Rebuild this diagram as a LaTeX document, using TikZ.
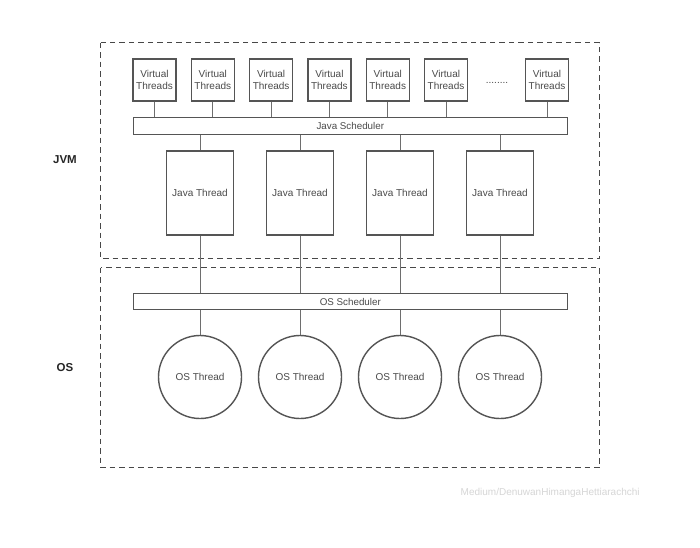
\documentclass[tikz,border=0pt]{standalone}
\usepackage{fontspec}
\setmainfont{Liberation Sans}
\definecolor{edge}{HTML}{555555}
\definecolor{txt}{HTML}{4A4A4A}
\definecolor{wm}{HTML}{D6D6D6}
\tikzset{
  vt/.style={draw=edge, line width=1.4pt, fill=white, minimum width=43pt, minimum height=42pt, inner sep=0pt, align=center, font=\fontsize{10}{12.5}\selectfont, text=txt},
  jt/.style={draw=edge, line width=1.4pt, fill=white, minimum width=67pt, minimum height=84pt, inner sep=0pt, font=\fontsize{10}{12}\selectfont, text=txt},
  sched/.style={draw=edge, line width=1.3pt, fill=white, minimum width=434pt, minimum height=16.5pt, inner sep=0pt, font=\fontsize{9.8}{11}\selectfont, text=txt},
  ost/.style={draw=edge, line width=1.4pt, circle, fill=white, minimum size=83pt, inner sep=0pt, font=\fontsize{10}{12}\selectfont, text=txt},
  conn/.style={draw=edge!85, line width=0.9pt},
  region/.style={draw=black!72, line width=1.5pt, dash pattern=on 5.5pt off 4pt},
  side/.style={font=\bfseries\fontsize{11.5}{13}\selectfont, text=black!85}
}
\begin{document}
\begin{tikzpicture}[x=1pt,y=-1pt]
\useasboundingbox (0,0) rectangle (700,547);
\fill[white] (0,0) rectangle (700,547);
% regions
\draw[region] (100.5,42.5) rectangle (599.5,258.5);
\draw[region] (100.5,267.5) rectangle (599.5,467.5);
\node[side] (jvm) at (65,160) {JVM};
\node[side] (os) at (65,368) {OS};
% schedulers
\node[sched] (js) at (350.3,126) {Java Scheduler};
\node[sched] (oss) at (350.3,301.5) {OS Scheduler};
% virtual threads
\foreach \i/\x in {1/154.5,2/212.8,3/271.1,4/329.4,5/387.7,6/446,7/547}{
  \node[vt] (v\i) at (\x,80) {Virtual\\Threads};
  \draw[conn] (v\i.south) -- (v\i.south |- js.north);
}
\node[text=txt, font=\fontsize{10}{12}\selectfont] (dots) at (497,83) {........};
% java threads and OS threads
\foreach \i/\x in {1/200,2/300,3/400,4/500}{
  \node[jt] (j\i) at (\x,193) {Java Thread};
  \node[ost] (o\i) at (\x,377) {OS Thread};
  \draw[conn] (j\i.north |- js.south) -- (j\i.north);
  \draw[conn] (j\i.south) -- (j\i.south |- oss.north);
  \draw[conn] (o\i.north |- oss.south) -- (o\i.north);
}
\node[text=wm, font=\fontsize{10}{12}\selectfont, anchor=west, inner sep=0pt] (mark) at (460.5,492.5) {Medium/DenuwanHimangaHettiarachchi};
\end{tikzpicture}
\end{document}
